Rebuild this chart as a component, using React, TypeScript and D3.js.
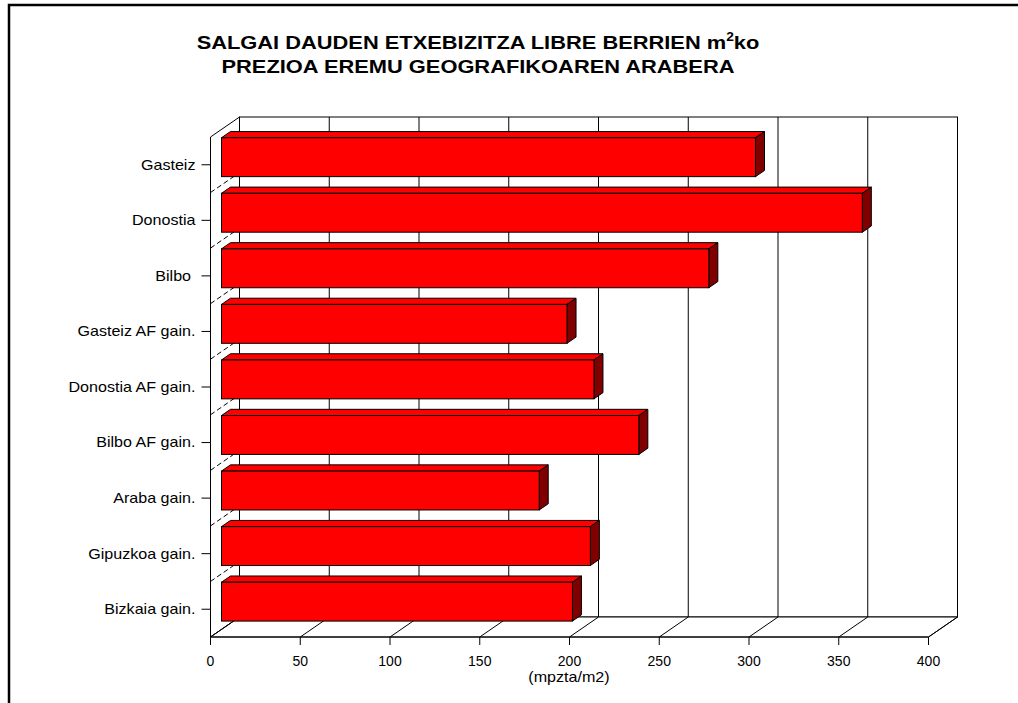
import React from "react";
import * as d3 from "d3";

const categories = [
  "Gasteiz",
  "Donostia",
  "Bilbo ",
  "Gasteiz AF gain.",
  "Donostia AF gain.",
  "Bilbo AF gain.",
  "Araba gain.",
  "Gipuzkoa gain.",
  "Bizkaia gain.",
];
const values = [297.5, 357, 271.5, 192.5, 207.5, 232.5, 177, 205.5, 195.5];
const xTicks = [0, 50, 100, 150, 200, 250, 300, 350, 400];
const titleLine1 = "SALGAI DAUDEN ETXEBIZITZA LIBRE BERRIEN m";
const titleLine2 = "PREZIOA EREMU GEOGRAFIKOAREN ARABERA";
const axisTitle = "(mpzta/m2)";

const W = 1018;
const H = 703;
const DX = 29; // wall depth x
const DY = -20; // wall depth y
const FRONT_T = 137;
const FRONT_B = 637;
const F0 = 11 / 29; // bar front depth fraction
const F1 = 20 / 29; // bar back depth fraction
const SX = 1.15; // horizontal text stretch

export default function App() {
  const x = d3.scaleLinear().domain([0, 400]).range([210.5, 928.5]);
  const y = d3
    .scaleBand<string>()
    .domain(categories)
    .range([FRONT_T, FRONT_B])
    .paddingInner(0.3)
    .paddingOuter(0.15);
  const step = y.step();
  const bw = y.bandwidth();
  const font = "Arial, 'Liberation Sans', Helvetica, sans-serif";

  const x0 = x(0);
  const x4 = x(400);

  const bars = categories.map((c, i) => {
    const v = values[i];
    const fx = DX * F0;
    const fy = DY * F0;
    const ddx = DX * (F1 - F0);
    const ddy = DY * (F1 - F0);
    const xa = x(0) + fx;
    const xb = x(v) + fx;
    const yt = (y(c) as number) + fy;
    const yb = yt + bw;
    return (
      <g key={c}>
        <polygon
          points={`${xa},${yt} ${xa + ddx},${yt + ddy} ${xb + ddx},${yt + ddy} ${xb},${yt}`}
          fill="#FF0000"
          stroke="#000"
          strokeWidth={1}
          strokeLinejoin="round"
        />
        <polygon
          points={`${xb},${yt} ${xb + ddx},${yt + ddy} ${xb + ddx},${yb + ddy} ${xb},${yb}`}
          fill="#800000"
          stroke="#000"
          strokeWidth={1}
          strokeLinejoin="round"
        />
        <rect x={xa} y={yt} width={xb - xa} height={bw} fill="#FF0000" stroke="#000" strokeWidth={1} />
      </g>
    );
  });

  const boundaries = d3.range(1, categories.length).map((k) => FRONT_T + k * step);

  return (
    <svg
      width={W}
      height={H}
      style={{ position: "absolute", left: 0, top: 0, background: "#fff" }}
      fontFamily={font}
    >
      <rect x={0} y={0} width={W} height={H} fill="#fff" />
      {/* outer frame */}
      <path d={`M9,${H} V5 H${W}`} fill="none" stroke="#000" strokeWidth={2.5} />

      {/* title */}
      <g transform={`translate(478,49) scale(${SX},1)`}>
        <text x={0} y={0} textAnchor="middle" fontWeight="bold" fontSize={19}>
          {titleLine1}
          <tspan fontSize={12} dy={-8}>2</tspan>
          <tspan dy={8}>ko</tspan>
        </text>
      </g>
      <g transform={`translate(478,73) scale(${SX},1)`}>
        <text x={0} y={0} textAnchor="middle" fontWeight="bold" fontSize={19}>
          {titleLine2}
        </text>
      </g>

      {/* back wall */}
      <rect
        x={x0 + DX}
        y={FRONT_T + DY}
        width={x4 - x0}
        height={FRONT_B - FRONT_T}
        fill="#fff"
        stroke="#000"
        strokeWidth={1}
      />
      {xTicks.slice(1, -1).map((t) => (
        <line
          key={"g" + t}
          x1={x(t) + DX}
          x2={x(t) + DX}
          y1={FRONT_T + DY}
          y2={FRONT_B + DY}
          stroke="#000"
          strokeWidth={1}
        />
      ))}

      {/* left wall */}
      <polygon
        points={`${x0},${FRONT_T} ${x0 + DX},${FRONT_T + DY} ${x0 + DX},${FRONT_B + DY} ${x0},${FRONT_B}`}
        fill="#fff"
        stroke="#000"
        strokeWidth={1}
      />
      {boundaries.map((b, k) => (
        <line
          key={"d" + k}
          x1={x0}
          y1={b}
          x2={x0 + DX}
          y2={b + DY}
          stroke="#000"
          strokeWidth={1}
          strokeDasharray="5,3"
        />
      ))}

      {/* floor */}
      <polygon
        points={`${x0},${FRONT_B} ${x0 + DX},${FRONT_B + DY} ${x4 + DX},${FRONT_B + DY} ${x4},${FRONT_B}`}
        fill="#fff"
        stroke="#000"
        strokeWidth={1}
      />
      {xTicks.map((t) => (
        <line
          key={"f" + t}
          x1={x(t)}
          y1={FRONT_B}
          x2={x(t) + DX}
          y2={FRONT_B + DY}
          stroke="#000"
          strokeWidth={1}
        />
      ))}

      {bars}

      {/* left axis ticks and labels */}
      <line x1={x0} x2={x0} y1={FRONT_T} y2={FRONT_B} stroke="#000" strokeWidth={1} />
      {categories.map((c) => {
        const cy = (y(c) as number) + bw / 2;
        return (
          <g key={"l" + c}>
            <line x1={x0 - 9} x2={x0} y1={cy} y2={cy} stroke="#000" strokeWidth={1} />
            <g transform={`translate(${x0 - 15},${cy}) scale(${SX},1)`}>
              <text
                x={0}
                y={0}
                dy="0.35em"
                textAnchor="end"
                fontSize={14}
                style={{ whiteSpace: "pre" }}
              >
                {c}
              </text>
            </g>
          </g>
        );
      })}

      {/* bottom axis */}
      <line x1={x0} x2={x4} y1={FRONT_B} y2={FRONT_B} stroke="#000" strokeWidth={1} />
      {xTicks.map((t) => (
        <g key={"t" + t}>
          <line x1={x(t)} x2={x(t)} y1={FRONT_B} y2={FRONT_B + 8} stroke="#000" strokeWidth={1} />
          <text x={x(t)} y={FRONT_B + 29} textAnchor="middle" fontSize={14}>
            {t}
          </text>
        </g>
      ))}
      <g transform={`translate(569,682) scale(${SX},1)`}>
        <text x={0} y={0} textAnchor="middle" fontSize={14}>
          {axisTitle}
        </text>
      </g>
    </svg>
  );
}
